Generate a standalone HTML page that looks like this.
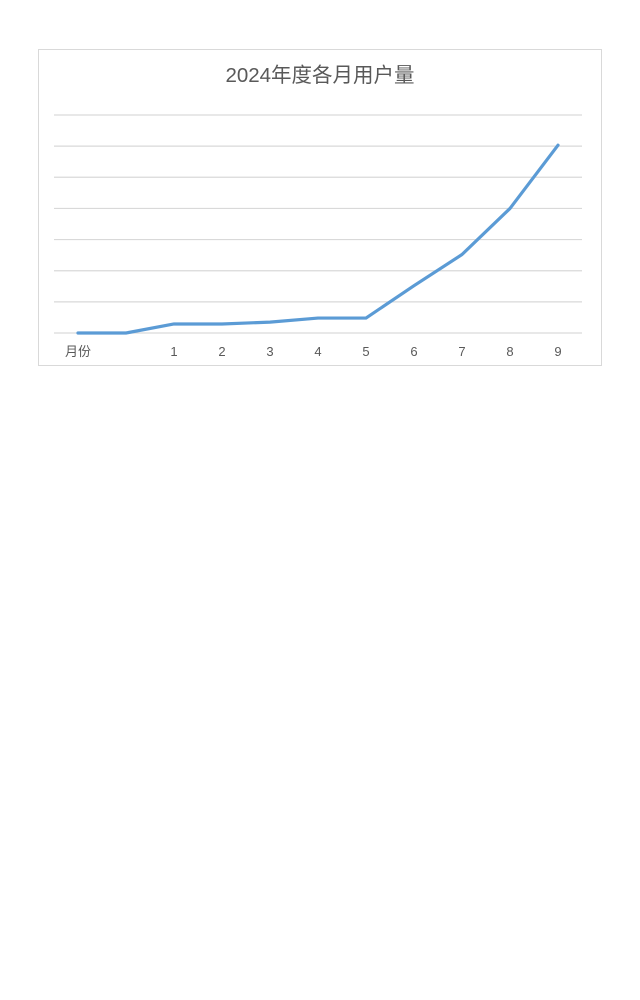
<!DOCTYPE html>
<html><head><meta charset="utf-8"><style>
body{margin:0;background:#fff;width:640px;height:1000px;overflow:hidden}
svg{position:absolute;left:0;top:0}
text{font-family:"Liberation Sans","Noto Sans CJK SC",sans-serif}
</style></head><body>
<svg id="c" width="640" height="1000">
<rect x="38.5" y="49.5" width="563" height="316" fill="#fff" stroke="#d9d9d9"/>
<text x="320" y="82" text-anchor="middle" font-size="20.5" fill="#595959">2024年度各月用户量</text>
<g id="grid"></g><g id="labels"></g><g id="series"></g>
</svg>
<script>
const categories=["月份","","1","2","3","4","5","6","7","8","9"];
const values=[0,0,29,29,35,48,48,152,252,400,603];
const yTicks=[0,100,200,300,400,500,600,700];
const ns="http://www.w3.org/2000/svg";
const x0=78,dx=48,yBase=333,yTop=115,yMax=700;
function xs(i){return x0+i*dx;}
function ys(v){return yBase-(v/yMax)*(yBase-yTop);}
const grid=document.getElementById('grid');
yTicks.forEach(t=>{const l=document.createElementNS(ns,'line');
l.setAttribute('x1',54);l.setAttribute('x2',582);l.setAttribute('y1',ys(t));l.setAttribute('y2',ys(t));
l.setAttribute('stroke','#d9d9d9');l.setAttribute('stroke-width','1.2');


grid.appendChild(l);});
const lab=document.getElementById('labels');
categories.forEach((c,i)=>{if(!c)return;const t=document.createElementNS(ns,'text');
t.setAttribute('x',xs(i));t.setAttribute('y',356);t.setAttribute('text-anchor','middle');
t.setAttribute('font-size','13');t.setAttribute('fill','#595959');t.textContent=c;


lab.appendChild(t);});
const p=document.createElementNS(ns,'polyline');
p.setAttribute('points',values.map((v,i)=>xs(i)+','+ys(v)).join(' '));
p.setAttribute('fill','none');p.setAttribute('stroke','#5b9bd5');p.setAttribute('stroke-width','3.2');
p.setAttribute('stroke-linejoin','round');p.setAttribute('stroke-linecap','round');


document.getElementById('series').appendChild(p);
</script>
</body></html>
